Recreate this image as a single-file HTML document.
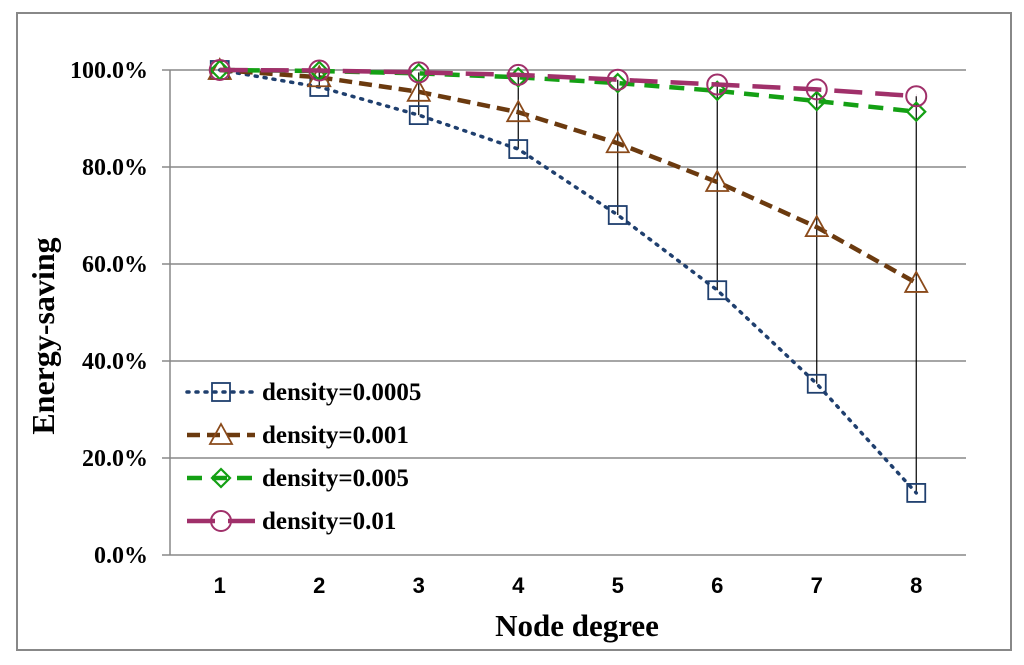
<!DOCTYPE html>
<html><head><meta charset="utf-8"><style>
body{margin:0;background:#fff;width:1024px;height:665px;overflow:hidden}
svg{display:block}
text{font-family:"Liberation Serif",serif;font-weight:bold}
</style></head><body>
<svg id="c" width="1024" height="665">
<rect x="17" y="13" width="994" height="637" fill="#fff" stroke="#888" stroke-width="2"/>
<g id="grid"></g><g id="hl"></g><g id="series"></g><g id="axes"></g><g id="legend"></g>
<text x="577" y="636" font-size="31" text-anchor="middle">Node degree</text>
<text transform="translate(54,336) rotate(-90)" font-size="32" text-anchor="middle">Energy-saving</text>
</svg>
<script>
const categories=[1,2,3,4,5,6,7,8];
const s0005=[100,96.5,90.7,83.7,70.1,54.6,35.3,12.8];
const s001=[100,98.5,95.5,91.3,84.9,76.9,67.6,56.1];
const s005=[100,99.8,99.3,98.5,97.3,95.7,93.6,91.4];
const s01=[100,99.9,99.5,99,98,97,96,94.6];
const yTicks=[0,20,40,60,80,100];
const names=["density=0.0005","density=0.001","density=0.005","density=0.01"];
const NS="http://www.w3.org/2000/svg";
const L=170,R=966,T=70,B=555;
const X=i=>L+(R-L)/categories.length*(i+0.5);
const Y=v=>B-(v/100)*(B-T);
function mk(t,a,p){const e=document.createElementNS(NS,t);for(const k in a)e.setAttribute(k,a[k]);p.appendChild(e);return e;}
const grid=document.getElementById('grid'),axes=document.getElementById('axes');
yTicks.forEach(v=>{
 const l=mk('line',{x1:L-8,x2:R,y1:Y(v),y2:Y(v),stroke:'#888','stroke-width':1.5},grid);
 
 
 const t=mk('text',{x:148,y:Y(v)+8,'font-size':24,'text-anchor':'end'},axes);t.textContent=v.toFixed(1)+'%';
 
 
});
const ax=mk('line',{x1:L,x2:L,y1:T,y2:B,stroke:'#888','stroke-width':1.5},axes);


categories.forEach((c,i)=>{
 const t=mk('text',{x:X(i),y:593,'font-size':22,'text-anchor':'middle',style:'font-family:"Liberation Sans",sans-serif'},axes);t.textContent=c;
 
 
});
const all=[s0005,s001,s005,s01];
const hl=document.getElementById('hl');
categories.forEach((c,i)=>{
 const vs=all.map(s=>s[i]);
 const l=mk('line',{x1:X(i),x2:X(i),y1:Y(Math.max(...vs)),y2:Y(Math.min(...vs)),stroke:'#000','stroke-width':1.2},hl);
 
 
});
const styles=[
 {c:'#1f3f6e',dash:'2 7',w:3.5,cap:'round',m:'sq',mc:'#1f3f6e'},
 {c:'#6b3a0f',dash:'13 7',w:4.5,cap:'butt',m:'tri',mc:'#8a4a1a'},
 {c:'#14a014',dash:'15 10',w:4.5,cap:'butt',m:'dia',mc:'#14a014'},
 {c:'#a0306a',dash:'28 13',w:4.5,cap:'butt',m:'cir',mc:'#a0306a'}];
function marker(type,x,y,col,p){
 let e;
 if(type=='sq')e=mk('rect',{x:x-9,y:y-9,width:18,height:18,fill:'none',stroke:col,'stroke-width':1.8},p);
 else if(type=='tri')e=mk('polygon',{points:`${x},${y-11} ${x+11},${y+9} ${x-11},${y+9}`,fill:'none',stroke:col,'stroke-width':1.8},p);
 else if(type=='dia')e=mk('polygon',{points:`${x},${y-9} ${x+9},${y} ${x},${y+9} ${x-9},${y}`,fill:'none',stroke:col,'stroke-width':2.2},p);
 else e=mk('circle',{cx:x,cy:y,r:10,fill:'none',stroke:col,'stroke-width':2},p);
 return e;
}
const sg=document.getElementById('series'),lg=document.getElementById('legend');
all.forEach((s,k)=>{
 const st=styles[k];
 const pl=mk('polyline',{points:s.map((v,i)=>X(i)+','+Y(v)).join(' '),fill:'none',stroke:st.c,'stroke-width':st.w,'stroke-dasharray':st.dash,'stroke-linecap':st.cap},sg);
 
 
 s.forEach((v,i)=>{const m=marker(st.m,X(i),Y(v),st.mc,sg);
  
  });
 const ly=392+k*43;
 const ll=mk('line',{x1:187,x2:255,y1:ly,y2:ly,stroke:st.c,'stroke-width':st.w,'stroke-dasharray':st.dash,'stroke-linecap':st.cap},lg);
 
 
 const lm=marker(st.m,221,ly,st.mc,lg);
 
 
 const t=mk('text',{x:262,y:ly+8,'font-size':25},lg);t.textContent=names[k];
 
 
});
</script>
</body></html>
